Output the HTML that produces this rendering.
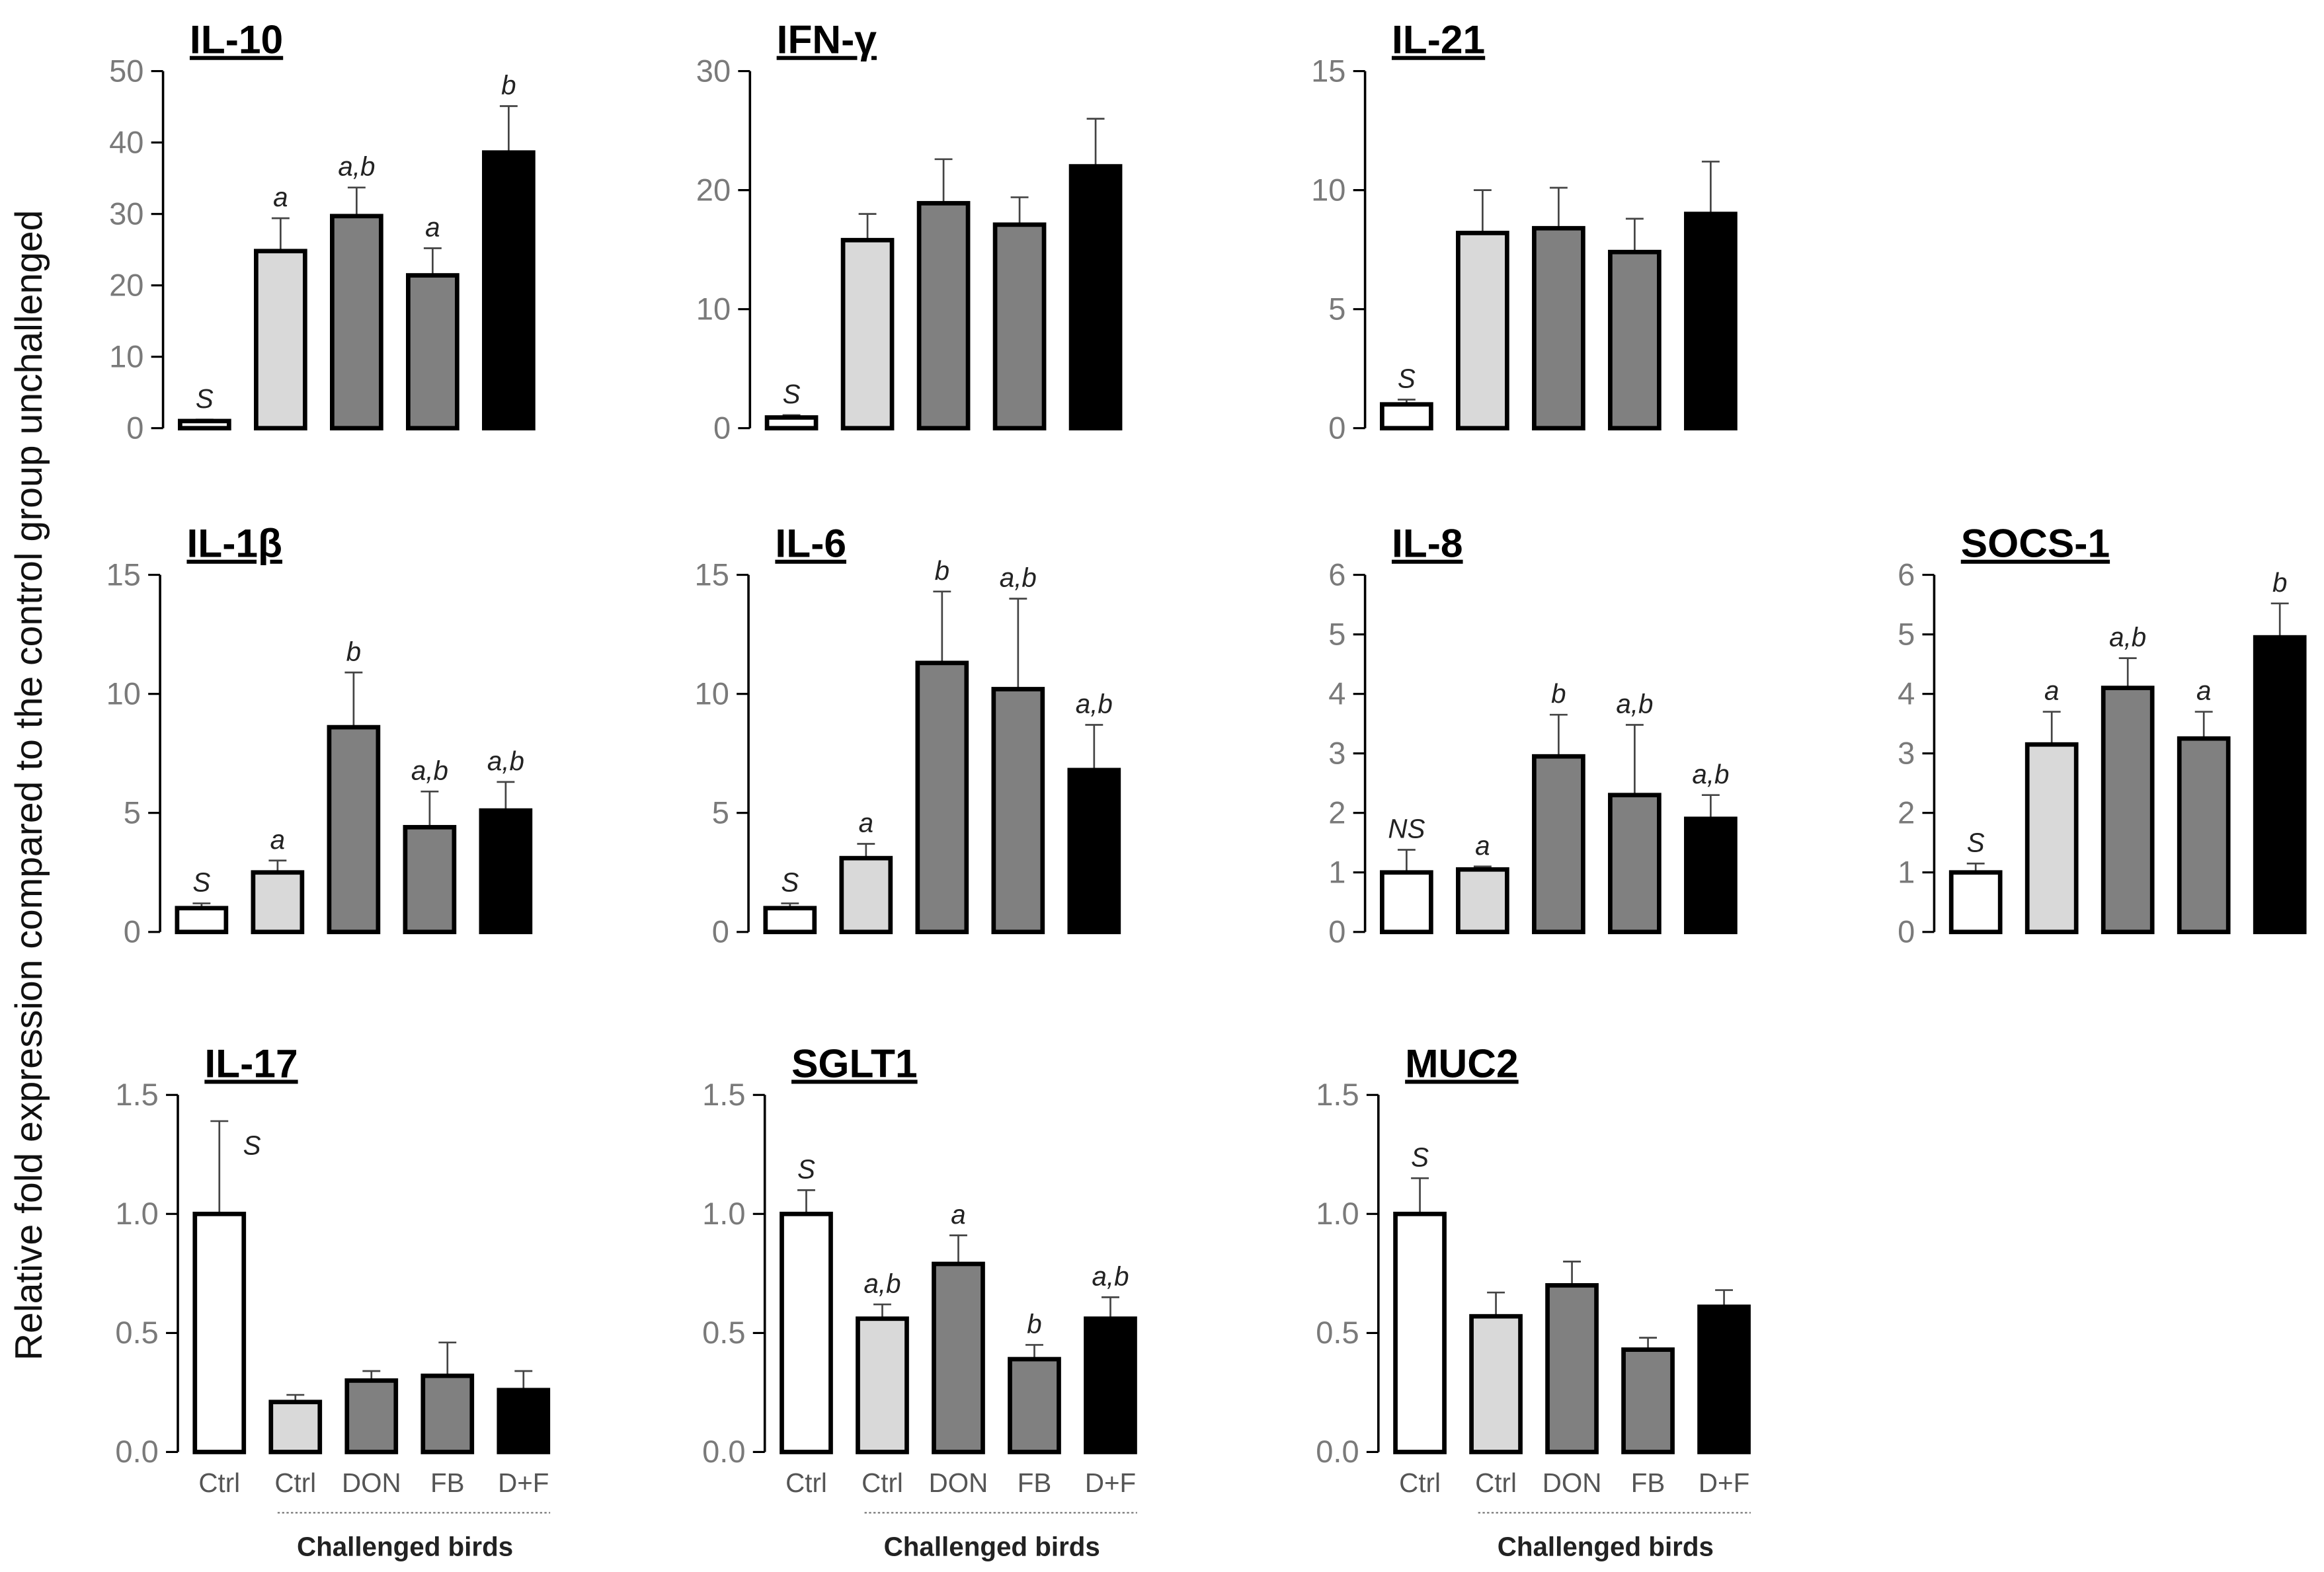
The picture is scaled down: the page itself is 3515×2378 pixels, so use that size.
<!DOCTYPE html>
<html><head><meta charset="utf-8"><style>
html,body{margin:0;padding:0;background:#fff;}
svg{display:block;}
text{font-family:"Liberation Sans Narrow","Liberation Sans",sans-serif;}
</style></head><body>
<svg id="fig" width="3515" height="2378" viewBox="0 0 1568 1061" preserveAspectRatio="none" xmlns="http://www.w3.org/2000/svg">
<rect x="0" y="0" width="1568" height="1061" fill="#fff"/>
<text transform="translate(28,530) rotate(-90)" text-anchor="middle" font-size="25.5" fill="#111" style="font-family:'Liberation Sans',sans-serif">Relative fold expression compared to the control group unchallenged</text>
</svg>
<script>
const categories = ["Ctrl","Ctrl","DON","FB","D+F"];
const fills = ["#ffffff","#d9d9d9","#808080","#808080","#000000"];
const il10Vals = [1.0,24.8,29.7,21.4,38.6];
const il10Err = [1.2,29.4,33.7,25.2,45.1];
const il10Let = ["S","a","a,b","a","b"];
const ifnVals = [0.9,15.8,18.9,17.1,22.0];
const ifnErr = [1.1,18.0,22.6,19.4,26.0];
const ifnLet = ["S","","","",""];
const il21Vals = [1.0,8.2,8.4,7.4,9.0];
const il21Err = [1.2,10.0,10.1,8.8,11.2];
const il21Let = ["S","","","",""];
const il1bVals = [1.0,2.5,8.6,4.4,5.1];
const il1bErr = [1.2,3.0,10.9,5.9,6.3];
const il1bLet = ["S","a","b","a,b","a,b"];
const il6Vals = [1.0,3.1,11.3,10.2,6.8];
const il6Err = [1.2,3.7,14.3,14.0,8.7];
const il6Let = ["S","a","b","a,b","a,b"];
const il8Vals = [1.0,1.05,2.95,2.3,1.9];
const il8Err = [1.38,1.1,3.65,3.48,2.3];
const il8Let = ["NS","a","b","a,b","a,b"];
const socsVals = [1.0,3.15,4.1,3.25,4.95];
const socsErr = [1.15,3.7,4.6,3.7,5.52];
const socsLet = ["S","a","a,b","a","b"];
const il17Vals = [1.0,0.21,0.30,0.32,0.26];
const il17Err = [1.39,0.24,0.34,0.46,0.34];
const il17Let = ["","","","",""];
const sgltVals = [1.0,0.56,0.79,0.39,0.56];
const sgltErr = [1.10,0.62,0.91,0.45,0.65];
const sgltLet = ["S","a,b","a","b","a,b"];
const mucVals = [1.0,0.57,0.70,0.43,0.61];
const mucErr = [1.15,0.67,0.80,0.48,0.68];
const mucLet = ["S","","","",""];
const ticks50 = ["0","10","20","30","40","50"];
const ticks30 = ["0","10","20","30"];
const ticks15 = ["0","5","10","15"];
const ticks6 = ["0","1","2","3","4","5","6"];
const ticks15d = ["0.0","0.5","1.0","1.5"];

const svg = document.getElementById('fig');
const NS = "http://www.w3.org/2000/svg";
function mk(tag, attrs, parent){
  const e = document.createElementNS(NS, tag);
  for (const k in attrs) e.setAttribute(k, attrs[k]);
  (parent||svg).appendChild(e); return e;
}
function panel(key, title, ax, y0, vals, errs, lets, ticks, xlabels){
  const g = mk('g', {});
  
  
  const H = 241, top = y0 - H;
  const tmax = parseFloat(ticks[ticks.length-1]);
  const ys = v => y0 - v / tmax * H;
  const xs = i => ax + 28 + i * 51.3;
  const t = mk('text', {x: ax + 18, y: top - 12, 'font-size': 27, 'font-weight': 'bold', fill: '#000', 'text-decoration': 'underline', style: "font-family:'Liberation Sans Narrow','Liberation Sans',sans-serif"}, g);
  t.textContent = title;
  
  
  const axl = mk('line', {x1: ax, y1: top, x2: ax, y2: y0, stroke: '#000', 'stroke-width': 1.6}, g);
  
  
  ticks.forEach((tl) => {
    const yy = ys(parseFloat(tl));
    mk('line', {x1: ax - 8, y1: yy, x2: ax, y2: yy, stroke: '#000', 'stroke-width': 1.4}, g);
    const tt = mk('text', {x: ax - 13, y: yy + 7, 'text-anchor': 'end', 'font-size': 21, fill: '#7a7a7a'}, g);
    tt.textContent = tl;
    
    
  });
  vals.forEach((v, i) => {
    const cx = xs(i), w = 33;
    const el = mk('line', {x1: cx, y1: ys(errs[i]), x2: cx, y2: ys(v), stroke: '#444', 'stroke-width': 1.2}, g);
    
    
    mk('line', {x1: cx - 6, y1: ys(errs[i]), x2: cx + 6, y2: ys(errs[i]), stroke: '#444', 'stroke-width': 1.2}, g);
    const r = mk('rect', {x: cx - w/2, y: ys(v), width: w, height: y0 - ys(v), fill: fills[i], stroke: '#000', 'stroke-width': 3}, g);
    
    
    if (lets[i]) {
      const lt = mk('text', {x: cx, y: ys(errs[i]) - 8, 'text-anchor': 'middle', 'font-size': 18, 'font-style': 'italic', fill: '#222'}, g);
      lt.textContent = lets[i];
      
      
    }
  });
  if (xlabels) {
    categories.forEach((c, i) => {
      const xt = mk('text', {x: xs(i), y: y0 + 27, 'text-anchor': 'middle', 'font-size': 18, fill: '#555'}, g);
      xt.textContent = c;
      
      
    });
    const dl = mk('line', {x1: xs(1) - 12, y1: y0 + 41, x2: xs(4) + 18, y2: y0 + 41, stroke: '#777', 'stroke-width': 1, 'stroke-dasharray': '1.5,1.5'}, g);
    
    
    const cb = mk('text', {x: (xs(1) + xs(4)) / 2 - 3, y: y0 + 70, 'text-anchor': 'middle', 'font-size': 18, 'font-weight': 'bold', fill: '#222'}, g);
    cb.textContent = 'Challenged birds';
    
    
  }
  return {g, xs, ys};
}
panel('il10', 'IL-10', 110, 289, il10Vals, il10Err, il10Let, ticks50, false);
panel('ifn', 'IFN-γ', 506, 289, ifnVals, ifnErr, ifnLet, ticks30, false);
panel('il21', 'IL-21', 921, 289, il21Vals, il21Err, il21Let, ticks15, false);
panel('il1b', 'IL-1β', 108, 629, il1bVals, il1bErr, il1bLet, ticks15, false);
panel('il6', 'IL-6', 505, 629, il6Vals, il6Err, il6Let, ticks15, false);
panel('il8', 'IL-8', 921, 629, il8Vals, il8Err, il8Let, ticks6, false);
panel('socs1', 'SOCS-1', 1305, 629, socsVals, socsErr, socsLet, ticks6, false);
const p17 = panel('il17', 'IL-17', 120, 980, il17Vals, il17Err, il17Let, ticks15d, true);
const s = mk('text', {x: p17.xs(0) + 16, y: p17.ys(1.25), 'font-size': 18, 'font-style': 'italic', fill: '#222'}, p17.g);
s.textContent = 'S';


panel('sglt1', 'SGLT1', 516, 980, sgltVals, sgltErr, sgltLet, ticks15d, true);
panel('muc2', 'MUC2', 930, 980, mucVals, mucErr, mucLet, ticks15d, true);
</script>
</body></html>
